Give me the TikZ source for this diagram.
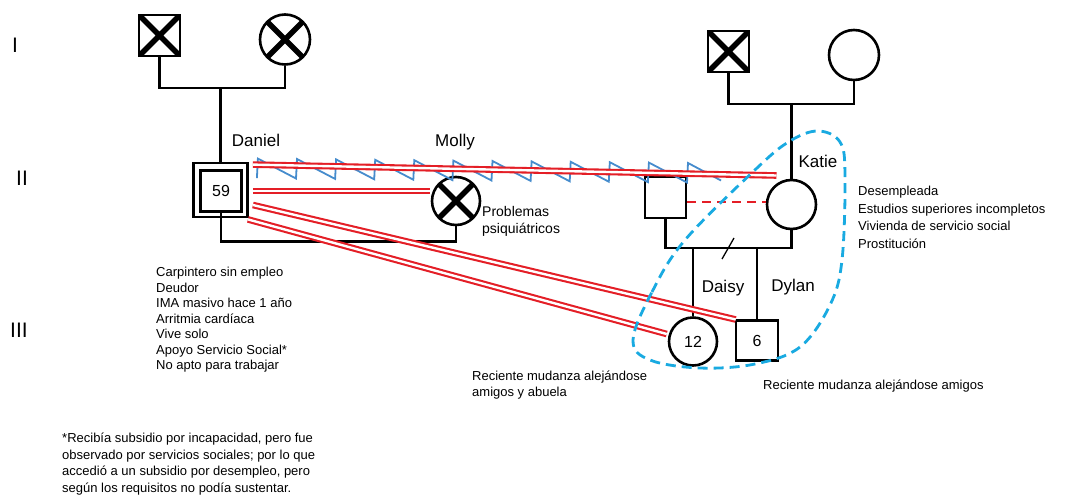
\documentclass[tikz,border=0pt]{standalone}
\usepackage{fontspec}
\setmainfont{Liberation Sans}
\usetikzlibrary{calc}
\definecolor{relred}{RGB}{228,30,38}
\definecolor{zigblue}{RGB}{70,140,205}
\definecolor{loopblue}{RGB}{25,170,225}
\begin{document}
\begin{tikzpicture}[x=1pt,y=-1pt,
  male/.style={draw, rectangle, line width=2.6pt, minimum size=41pt, inner sep=0pt},
  female/.style={draw, circle, line width=2.6pt, minimum size=49pt, inner sep=0pt},
  deceased/.style={path picture={\draw[line width=5.5pt]
      (path picture bounding box.north west) -- (path picture bounding box.south east)
      (path picture bounding box.north east) -- (path picture bounding box.south west);}},
  fam/.style={line width=2.4pt},
  rel/.style={draw=relred, double=white, line width=2.1pt, double distance=2.4pt},
  zig/.style={draw=zigblue, line width=1.8pt},
  lbl/.style={font=\fontsize{17}{20}\selectfont},
  gen/.style={font=\fontsize{21}{24}\selectfont},
  num/.style={font=\fontsize{16}{18}\selectfont},
  info/.style={font=\fontsize{13}{15.5}\selectfont, align=left, anchor=north west, inner sep=0pt}
]
\useasboundingbox (0,0) rectangle (1065,498);
\fill[white] (0,0) rectangle (1065,498);

% generation labels
\node[gen] (g1) at (15,45) {I};
\node[gen] (g2) at (22,178) {II};
\node[gen] (g3) at (19,330) {III};

% persons
\node[male,deceased] (gf1) at (159.5,35.5) {};
\node[female,deceased,minimum size=50pt] (gm1) at (285,39.5) {};
\node[male,minimum size=54pt,line width=2.8pt] (daniel) at (220.5,190) {};
\node[male,minimum size=41pt,line width=2.8pt,num] (daniel59) at (221,191) {59};
\node[female,deceased,minimum size=48pt] (molly) at (456,201) {};
\node[male,deceased] (gf2) at (728.5,51.5) {};
\node[female,minimum size=50pt] (gm2) at (854,55) {};
\node[female,minimum size=49pt] (katie) at (791.5,204.5) {};
\node[male] (partner) at (665.5,197.5) {};
\node[female,minimum size=48pt,num] (daisy) at (693,341.5) {12};
\node[male,minimum width=42pt,minimum height=40pt,num] (dylan) at (757,340.5) {6};

% family lines
\coordinate (c1) at (220.5,88);
\draw[fam] (gf1.south) -- (gf1.south |- c1) -- (gm1.south |- c1) -- (gm1.south);
\draw[fam] (c1) -- (daniel.north);
\coordinate (c2) at (0,241.5);
\draw[fam] (daniel59.south) -- (daniel59.south |- c2) -- (molly.south |- c2) -- (molly.south);
\coordinate (c3) at (791.5,104);
\draw[fam] (gf2.south) -- (gf2.south |- c3) -- (gm2.south |- c3) -- (gm2.south);
\draw[fam] (c3) -- (katie.north);
\coordinate (c4) at (0,248);
\draw[fam] (partner.south) -- (partner.south |- c4) -- (katie.south |- c4) -- (katie.south);
\draw[fam] (daisy.north |- c4) -- (daisy.north);
\draw[fam] (dylan.north |- c4) -- (dylan.north);
\coordinate (s1) at (722,259);
\coordinate (s2) at (734,238);
\draw[line width=1.3pt] (s1) -- (s2);

% dashed red between partner and Katie
\coordinate (c5) at (0,202);
\draw[relred, line width=2.2pt, dash pattern=on 9pt off 6pt] (partner.east |- c5) -- (katie.west |- c5);

% blue zigzag Daniel - Katie
\draw[zig] ($(daniel.north east)+(8,16.5)$)
  \foreach \i in {1,...,11}{ -- ++(1,-19.5) -- ++(38.1,19.9) }
  -- ++(1,-19.5) -- ++(33,17.5);

% red double relations
\draw[rel] ($(daniel.north east)+(4,3)$) -- ($(katie.center)+(-15,-29)$);
\draw[rel] ($(daniel.east)+(4,1)$) -- ($(molly.west)+(-1,-10)$);
\draw[rel] ($(daniel.east)+(4,15)$) -- ($(dylan.west)+(1,-21)$);
\draw[rel] ($(daniel.south east)+(-1,1)$) -- ($(daisy.west)+(-1,-7.5)$);

% name labels
\node[lbl] (tdaniel) at (256,140) {Daniel};
\node[lbl] (tmolly) at (455,142) {Molly};
\node[lbl] (tkatie) at (818,161) {Katie};
\node[lbl] (tdaisy) at (723,288) {Daisy};
\node[lbl] (tdylan) at (793,287) {Dylan};

% notes
\node[info,font=\fontsize{14}{17}\selectfont,anchor=west] (tmolly2) at (482,221.5) {Problemas\\psiquiátricos};
\node[info] (tdinfo) at (156,267) {Carpintero sin empleo\\Deudor\\IMA masivo hace 1 año\\Arritmia cardíaca\\Vive solo\\Apoyo Servicio Social*\\No apto para trabajar};
\node[info,font=\fontsize{13}{17.5}\selectfont] (tkinfo) at (858,186) {Desempleada\\Estudios superiores incompletos\\Vivienda de servicio social\\Prostitución};
\node[info,font=\fontsize{13}{16}\selectfont] (tdaisyinfo) at (472,371) {Reciente mudanza alejándose\\amigos y abuela};
\node[info] (tdyinfo) at (763,380) {Reciente mudanza alejándose amigos};
\node[info,font=\fontsize{13}{16.5}\selectfont] (tfoot) at (62,433) {*Recibía subsidio por incapacidad, pero fue\\observado por servicios sociales; por lo que\\accedió a un subsidio por desempleo, pero\\según los requisitos no podía sustentar.};

% household boundary
\draw[loopblue, line width=2.8pt, dash pattern=on 10pt off 6pt]
  plot[smooth cycle, tension=0.6] coordinates {(633,340) (652,292) (685,240) (757,168) (790,141) (818,131) (840,142) (845,175) (842,260) (830,305) (800,347) (755,364) (700,368) (650,360)};
\end{tikzpicture}
\end{document}
